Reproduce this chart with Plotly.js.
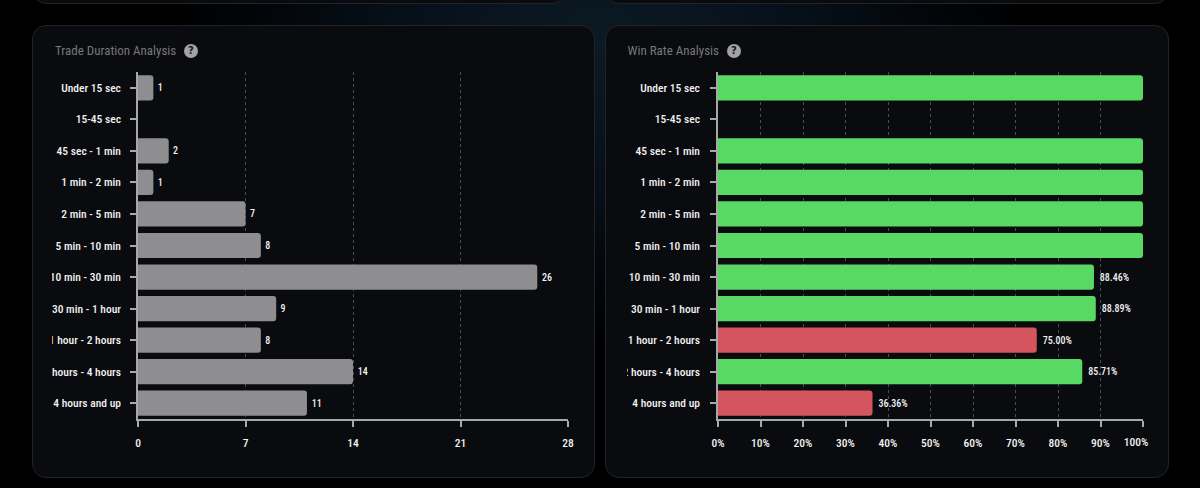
<!DOCTYPE html>
<html><head><meta charset="utf-8">
<script src="https://cdn.plot.ly/plotly-3.0.1.min.js"></script>
<style>
html,body{margin:0;padding:0;width:1200px;height:488px;overflow:hidden;background:#000}
body{position:relative;background:radial-gradient(ellipse 420px 300px at 600px 40px,#0b1a24 0%,#07101a 45%,#000 100%)}
.card{position:absolute;box-sizing:border-box;background:#0a0b0f;border:1px solid #202428;border-radius:14px}
.wrap{position:absolute;overflow:hidden}
.help{position:absolute;width:14px;height:14px;border-radius:50%;background:#a3a3a3;color:#15171a;font:bold 10px/14px "DejaVu Sans",sans-serif;text-align:center}
.main-svg text{font-stretch:75%}
</style></head><body>
<div class="card" style="left:32px;top:-40px;width:534px;height:44px"></div>
<div class="card" style="left:605px;top:-40px;width:564px;height:44px"></div>
<div class="card" style="left:32px;top:25px;width:563px;height:453px"></div>
<div class="card" style="left:605px;top:25px;width:564px;height:453px"></div>
<div class="wrap" id="durBox" style="left:52px;top:25px;width:540px;height:453px"><div id="dur"></div></div>
<div class="wrap" id="winBox" style="left:627px;top:25px;width:541px;height:453px"><div id="win"></div></div>
<div class="help" style="left:184px;top:44px">?</div>
<div class="help" style="left:727px;top:44px">?</div>
<script>
const categories=["Under 15 sec","15-45 sec","45 sec - 1 min","1 min - 2 min","2 min - 5 min","5 min - 10 min","10 min - 30 min","30 min - 1 hour","1 hour - 2 hours","2 hours - 4 hours","4 hours and up"];
const tradeCounts=[1,null,2,1,7,8,26,9,8,14,11];
const countTicks=[0,7,14,21,28];
const winRates=[100,null,100,100,100,100,88.46,88.89,75,85.71,36.36];
const winLabels=["","","","","","","88.46%","88.89%","75.00%","85.71%","36.36%"];
const winColors=["#58d964","#58d964","#58d964","#58d964","#58d964","#58d964","#58d964","#58d964","#d4555e","#58d964","#d4555e"];
const rateTicks=[0,10,20,30,40,50,60,70,80,90,100];
const rateTickText=["0%","10%","20%","30%","40%","50%","60%","70%","80%","90%",""];

const F='"Roboto",sans-serif';
const tickFont={family:F,size:11.5,color:"#f2f2f2",weight:500};
function base(title,w,l,r,titleX,standoff){
  return {
    width:w,height:453,margin:{l:l,r:r,t:47,b:59,pad:0},
    paper_bgcolor:"rgba(0,0,0,0)",plot_bgcolor:"rgba(0,0,0,0)",
    showlegend:false,bargap:0.2,barcornerradius:3,
    title:{text:title,x:titleX,xanchor:"left",xref:"container",y:0.943,yanchor:"middle",yref:"container",pad:{l:0,r:0,t:0,b:0},
      font:{family:F,size:13,color:"#77787a"}},
    yaxis:{type:"category",categoryorder:"array",categoryarray:categories,autorange:false,range:[10.5,-0.5],
      showgrid:false,zeroline:false,showline:true,linecolor:"#a8a8a8",linewidth:1.5,
      ticks:"outside",ticklen:6,tickwidth:1.5,tickcolor:"#a8a8a8",ticklabelstandoff:standoff,tickfont:tickFont,automargin:false},
    xaxis:{showgrid:true,griddash:"3px,3px",gridcolor:"#4a4c4f",gridwidth:1,zeroline:false,showline:true,linecolor:"#a8a8a8",linewidth:1.5,
      ticks:"outside",ticklen:6,tickwidth:1.5,tickcolor:"#a8a8a8",tickfont:tickFont,ticklabelstandoff:6,automargin:false}
  };
}
const cfg={displayModeBar:false,responsive:false};
const labelFont={family:F,size:10,color:"#f2f2f2",weight:500};

const durLayout=base("Trade Duration Analysis",540,86,24,3/540,7);
durLayout.xaxis.range=[0,28];durLayout.xaxis.tickvals=countTicks;durLayout.xaxis.ticktext=countTicks.map(String);durLayout.xaxis.tickmode="array";
Plotly.newPlot("dur",[{type:"bar",orientation:"h",y:categories,x:tradeCounts,text:tradeCounts.map(v=>v==null?"":"\u200A"+v),
  textposition:"outside",cliponaxis:false,textfont:labelFont,marker:{color:"#8e8d8f",line:{width:0}},hoverinfo:"skip"}],durLayout,cfg);

const winLayout=base("Win Rate Analysis",541,90.5,25,0.5/541,8);
winLayout.xaxis.range=[0,100];winLayout.xaxis.tickvals=rateTicks;winLayout.xaxis.ticktext=rateTickText;winLayout.xaxis.tickmode="array";
winLayout.annotations=[{text:"100%",x:100,xref:"x",y:0,yref:"paper",yanchor:"top",xanchor:"center",xshift:-7,yshift:-14,showarrow:false,font:tickFont}];
Plotly.newPlot("win",[{type:"bar",orientation:"h",y:categories,x:winRates,text:winLabels.map(t=>t?"\u200A"+t:""),
  textposition:"outside",cliponaxis:false,textfont:labelFont,marker:{color:winColors,line:{width:0}},hoverinfo:"skip"}],winLayout,cfg);
</script></body></html>
